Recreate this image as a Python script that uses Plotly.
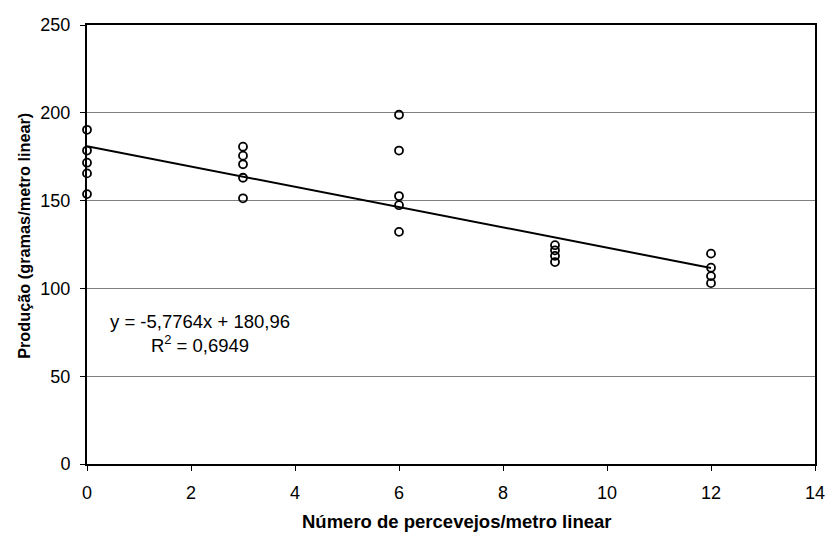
import plotly.graph_objects as go

# Data
x_vals = [0, 0, 0, 0, 0,
          3, 3, 3, 3, 3,
          6, 6, 6, 6, 6,
          9, 9, 9, 9,
          12, 12, 12, 12]
y_vals = [190.3, 178.5, 171.6, 165.5, 153.7,
          180.7, 175.6, 170.7, 163.0, 151.3,
          198.9, 178.5, 152.6, 147.4, 132.2,
          124.6, 121.7, 118.5, 115.0,
          119.8, 111.8, 107.0, 103.0]

slope = -5.7764
intercept = 180.96
r2 = 0.6949
trend_x = [0, 12]
trend_y = [intercept + slope * v for v in trend_x]

x_ticks = [0, 2, 4, 6, 8, 10, 12, 14]
y_ticks = [0, 50, 100, 150, 200, 250]

x_title = "Número de percevejos/metro linear"
y_title = "Produção (gramas/metro linear)"
eq_text = "y = -5,7764x + 180,96<br>R<sup>2</sup> = 0,6949"

font_family = "Liberation Sans, Arial, sans-serif"

fig = go.Figure()
fig.add_trace(go.Scatter(
    x=x_vals, y=y_vals, mode="markers",
    marker=dict(symbol="circle-open", size=8, color="black", line=dict(width=1.8, color="black")),
    showlegend=False, cliponaxis=False, hoverinfo="skip",
))
fig.add_trace(go.Scatter(
    x=trend_x, y=trend_y, mode="lines",
    line=dict(color="black", width=2),
    showlegend=False, hoverinfo="skip",
))

fig.add_annotation(
    x=2.18, y=74.5, xref="x", yref="y",
    text=eq_text,
    showarrow=False, align="center",
    font=dict(family=font_family, size=18.5, color="black"),
    xanchor="center", yanchor="middle",
)
fig.add_annotation(
    x=0.508, y=-0.132, xref="paper", yref="paper",
    text="<b>" + x_title + "</b>", showarrow=False,
    font=dict(family=font_family, size=18.5, color="black"),
    xanchor="center", yanchor="middle",
)
fig.add_annotation(
    x=-0.087, y=0.519, xref="paper", yref="paper",
    text="<b>" + y_title + "</b>", showarrow=False, textangle=-90,
    font=dict(family=font_family, size=16.3, color="black"),
    xanchor="center", yanchor="middle",
)

fig.update_layout(
    width=836, height=536,
    margin=dict(l=87, r=11, t=25, b=72),
    paper_bgcolor="white", plot_bgcolor="white",
    font=dict(family=font_family, size=18, color="black"),
    xaxis=dict(
        range=[0, 14], tickvals=x_ticks, showgrid=False, zeroline=False,
        showline=True, linecolor="black", linewidth=2, mirror=True,
        ticks="outside", ticklen=5, tickcolor="black", tickwidth=1,
        ticklabelstandoff=6,
    ),
    yaxis=dict(
        range=[0, 250], tickvals=y_ticks, showgrid=True, gridcolor="#808080", gridwidth=1,
        zeroline=False,
        showline=True, linecolor="black", linewidth=2, mirror=True,
        ticks="outside", ticklen=5, tickcolor="black", tickwidth=1,
        ticklabelstandoff=6,
    ),
)

fig.write_html(
    "out.html",
    config={"displayModeBar": False},
    post_script="document.body.style.margin='0';document.body.style.overflow='hidden';",
)
